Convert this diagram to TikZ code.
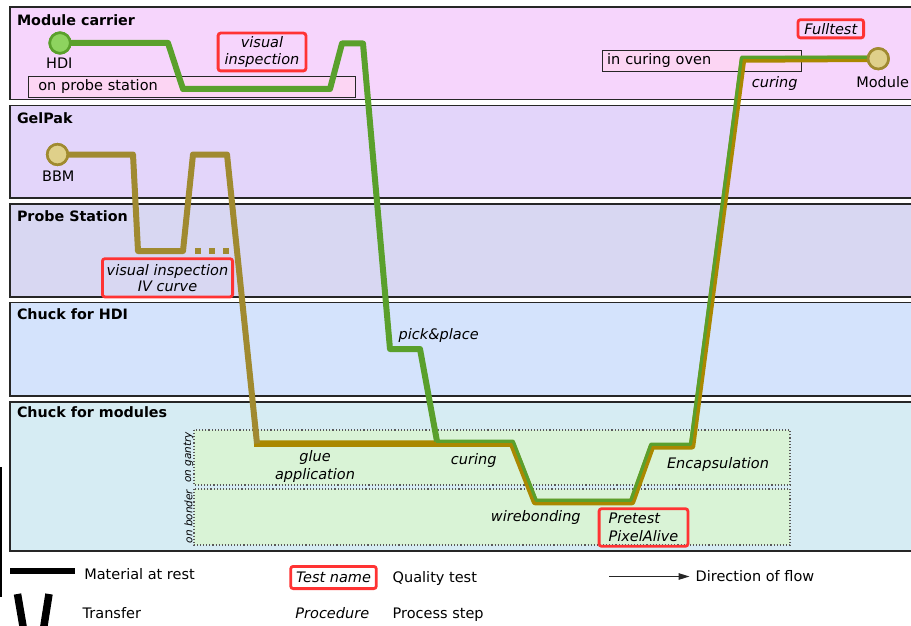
\documentclass[tikz,border=0pt]{standalone}
\usepackage{fontspec}
\setmainfont{DejaVu Sans}
\usetikzlibrary{arrows.meta}
\definecolor{laneA}{HTML}{F6D5FC}
\definecolor{laneB}{HTML}{E3D5FA}
\definecolor{laneC}{HTML}{D8D7F2}
\definecolor{laneD}{HTML}{D4E3FC}
\definecolor{laneE}{HTML}{D6ECF3}
\definecolor{boxgreen}{HTML}{D9F3D6}
\definecolor{notefill}{HTML}{FCD5F3}
\definecolor{testred}{HTML}{FF3333}
\definecolor{hdigreen}{HTML}{5AA02C}
\definecolor{hdifill}{HTML}{8ED35F}
\definecolor{bbmgold}{HTML}{A08A30}
\definecolor{modgold}{HTML}{AA8800}
\definecolor{bbmfill}{HTML}{DFD08A}
\begin{document}
\begin{tikzpicture}[x=1pt,y=-1pt,
  every node/.style={inner sep=0pt, outer sep=0pt, font=\fontsize{14.5}{17.6}\selectfont},
  lane/.style={draw=black!85, line width=1.3pt},
  lanetitle/.style={anchor=base west, font=\bfseries\fontsize{14.3}{17}\selectfont},
  subbox/.style={fill=boxgreen, draw=black!65, dotted, line width=1.1pt},
  subtitle/.style={rotate=90, font=\itshape\fontsize{10.5}{12}\selectfont},
  notebox/.style={draw=black!85, fill=notefill, line width=1pt, minimum height=20.7pt, align=left},
  proc/.style={font=\itshape\fontsize{14.5}{17.6}\selectfont, align=center},
  testbox/.style={proc, draw=testred, line width=2.8pt, rounded corners=2.5pt},
  plain/.style={anchor=base west},
  station/.style={circle, minimum size=20.5pt, line width=2.6pt},
  hdiflow/.style={draw=hdigreen, line width=6pt, line join=round},
  bbmflow/.style={draw=bbmgold, line width=6pt, line join=round},
  modflow/.style={draw=modgold, line width=6.5pt, line join=round},
  hdithin/.style={draw=hdigreen, line width=3.2pt, line join=round},
  legendbar/.style={draw=black, line width=6pt},
  legendtransfer/.style={draw=black, line width=7.5pt},
  flowarrow/.style={-{Triangle[length=11pt,width=6.5pt]}, line width=1.2pt, draw=black!85}
]
\useasboundingbox (0,0) rectangle (911,626);

% swim lanes
\path[lane, fill=laneA] (10,7) rectangle (920,99.5);
\path[lane, fill=laneB] (10,105.5) rectangle (920,198);
\path[lane, fill=laneC] (10,204) rectangle (920,297);
\path[lane, fill=laneD] (10,302.5) rectangle (920,396);
\path[lane, fill=laneE] (10,402) rectangle (920,551);

\node[lanetitle] (tmc) at (17,26) {Module carrier};
\node[lanetitle] (tgp) at (17,123) {GelPak};
\node[lanetitle] (tps) at (17,221) {Probe Station};
\node[lanetitle] (thdi) at (17,319) {Chuck for HDI};
\node[lanetitle] (tcm) at (17,417) {Chuck for modules};

% sub areas
\path[subbox] (194,430) rectangle (790,485);
\path[subbox] (194,489) rectangle (790,545);
\node[subtitle] (gantry) at (188.5,457.5) {on gantry};
\node[subtitle] (bonder) at (188.5,516.5) {on bonder};

% note boxes
\node[notebox, minimum width=326.7pt, inner xsep=9.5pt, text width=307.7pt] (probebox) at (192.2,86.9) {on probe station};
\node[notebox, minimum width=199.6pt, inner xsep=5pt, text width=189.6pt] (ovenbox) at (702,60.9) {in curing oven};

% stations
\node[station, draw=hdigreen, fill=hdifill] (hdi) at (60,43) {};
\node[station, draw=bbmgold, fill=bbmfill] (bbm) at (57.5,154.5) {};
\node[station, draw=bbmgold, fill=bbmfill] (module) at (878.3,58.7) {};

% flows
\draw[modflow] (254,443.5) -- (512,443.5) -- (535,502) -- (632,502) -- (652,446.3) -- (692,446.3) -- (743,59.5) -- (module.center);
\draw[bbmflow] (bbm.center) -- (133,154.5) -- (138,251) -- (183,251) -- (193,154.5) -- (227,154.5) -- (257,443.5);
\draw[bbmflow, dash pattern=on 6pt off 8pt] (195,251) -- (229,251);
\draw[hdiflow] (hdi.center) -- (168,43) -- (183,89) -- (330,89) -- (342,43.5) -- (363,43.5) -- (390,349) -- (420,349) -- (437,441.3);
\draw[hdithin] (436,441.3) -- (513.2,441.3) -- (536.2,500.3) -- (630.8,500.3) -- (650.8,444.3) -- (690.5,444.3) -- (741.5,57.3) -- (module.center |- 0,57.3);

% redraw stations on top
\node[station, draw=hdigreen, fill=hdifill] (hdi2) at (hdi) {};
\node[station, draw=bbmgold, fill=bbmfill] (bbm2) at (bbm) {};
\node[station, draw=bbmgold, fill=bbmfill] (module2) at (module) {};

\node[anchor=base] (hdilbl) at (59.3,68.3) {HDI};
\node[anchor=base] (bbmlbl) at (58.3,181.7) {BBM};
\node[anchor=base] (modlbl) at (882.7,87.3) {Module};

% tests
\node[testbox, minimum width=87.8pt, minimum height=37.8pt] (vi1) at (262,52) {visual\\inspection};
\node[testbox, minimum width=65.6pt, minimum height=18.2pt] (full) at (830.8,28.8) {Fulltest};
\node[testbox, minimum width=130.2pt, minimum height=38.2pt, font=\itshape\fontsize{14.5}{16}\selectfont] (vi2) at (167.5,277.8) {visual inspection\\IV curve};
\node[testbox, minimum width=88.8pt, minimum height=37.6pt, align=left, font=\itshape\fontsize{14.5}{18}\selectfont] (pre) at (643.5,527.5) {Pretest\\PixelAlive};

% procedures
\node[proc, anchor=base] (cur1) at (774.7,87.3) {curing};
\node[proc, anchor=base] (pp) at (438.7,339.3) {pick\&place};
\node[proc] (glue) at (315,466.7) {glue\\application};
\node[proc, anchor=base] (cur2) at (473.7,464.3) {curing};
\node[proc, anchor=base] (wb) at (535.8,521.7) {wirebonding};
\node[proc, anchor=base] (enc) at (718,468.3) {Encapsulation};

% legend
\draw[line width=2pt] (1,467) -- (1,597);
\coordinate (barA) at (10,571.3);
\coordinate (barB) at (75,571.3);
\draw[legendbar] (barA) -- (barB);
\node[plain] (lrest) at (84.3,579.3) {Material at rest};
\draw[legendtransfer] (17.5,594) -- (24,632);
\draw[legendtransfer] (49,594) -- (43,632);
\node[plain] (ltrans) at (82.7,618.3) {Transfer};
\node[testbox, minimum width=85.6pt, minimum height=22.2pt] (ltest) at (333.5,577.5) {Test name};
\node[plain] (lqual) at (392.7,582.7) {Quality test};
\node[proc, anchor=base] (lproc) at (332.3,618.3) {Procedure};
\node[plain] (lstep) at (392.7,618.3) {Process step};
\node[plain] (lflow) at (695.7,581) {Direction of flow};
\coordinate (fstart) at (609,576.5);
\coordinate (fend) at (689.5,576.5);
\draw[flowarrow] (fstart) -- (fend);
\end{tikzpicture}
\end{document}
